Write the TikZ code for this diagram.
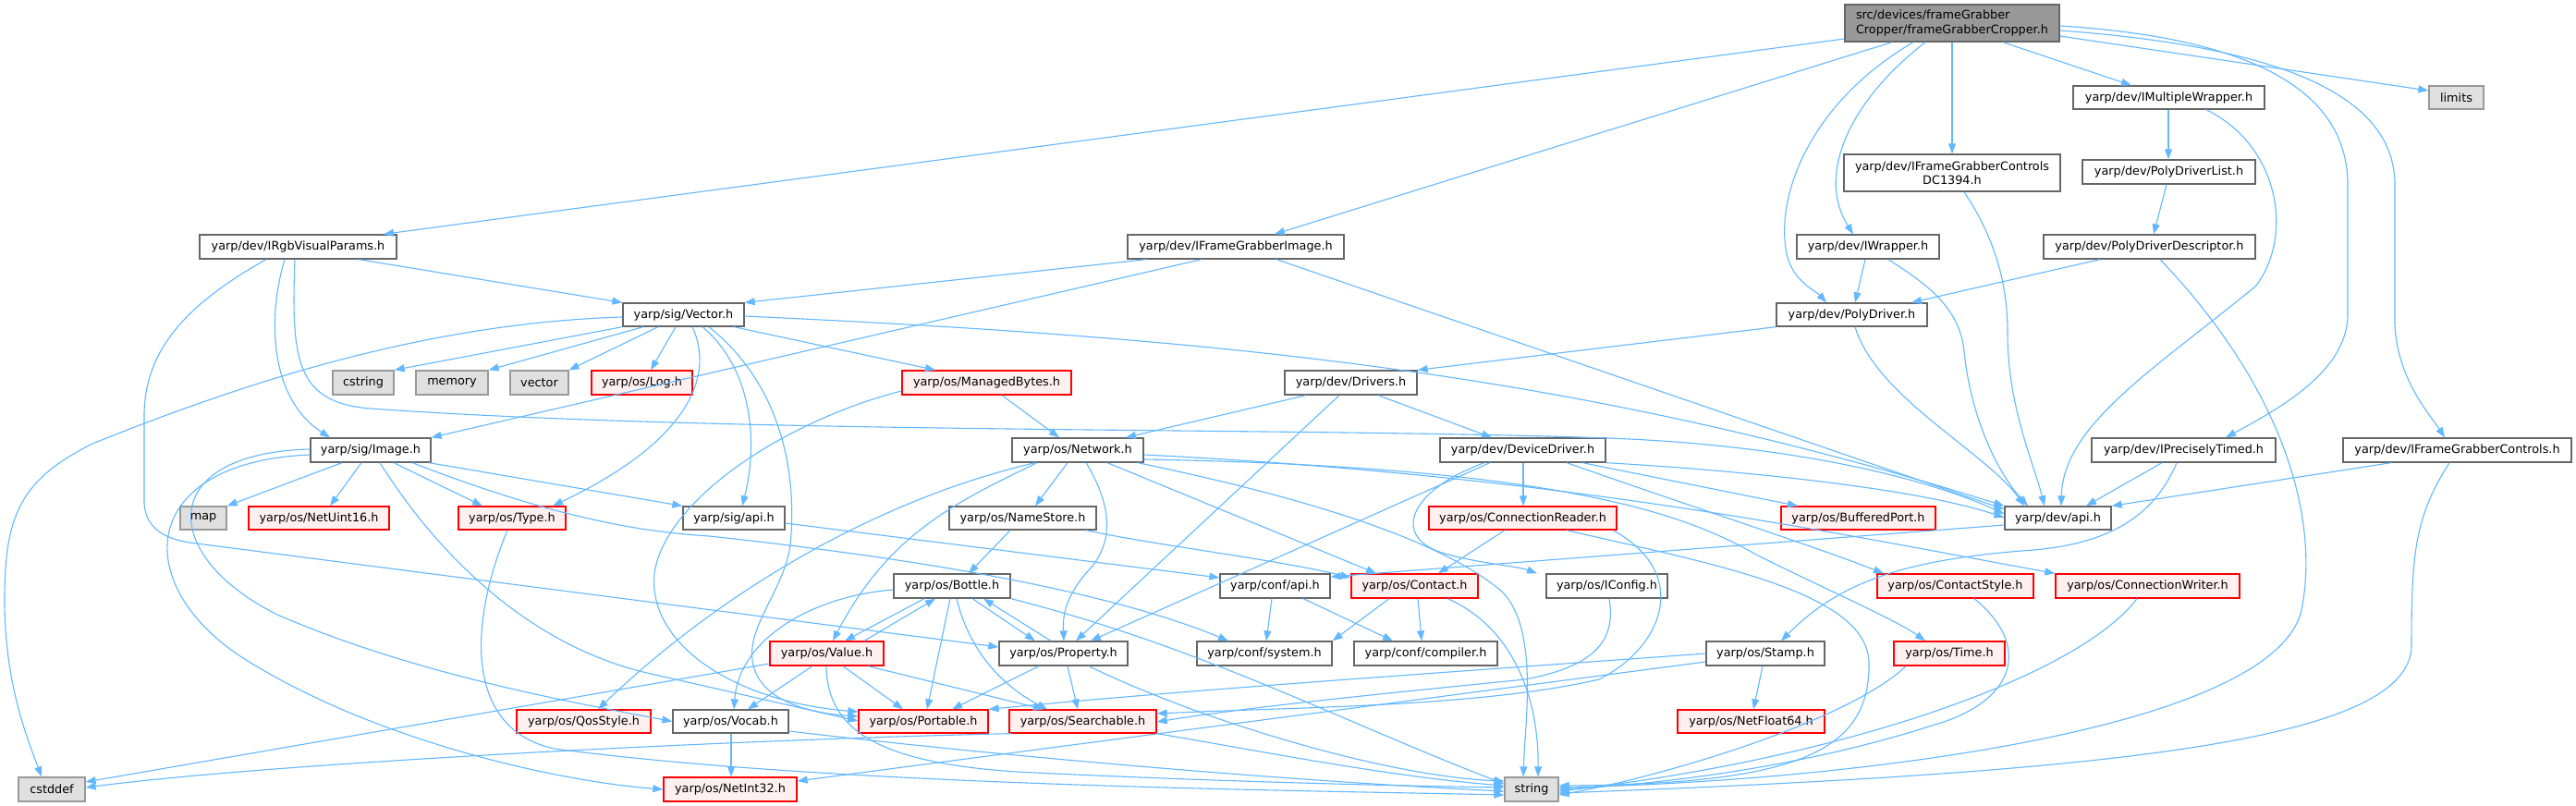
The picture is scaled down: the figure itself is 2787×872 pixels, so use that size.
\documentclass[tikz,border=0pt]{standalone}
\usepackage{fontspec}
\setmainfont{DejaVu Sans}
\usetikzlibrary{arrows.meta}
\definecolor{eb}{HTML}{63B8FF}
\definecolor{gbd}{HTML}{666666}
\definecolor{rbd}{HTML}{FF0000}
\definecolor{rfill}{HTML}{FFF0F0}
\definecolor{sbd}{HTML}{999999}
\definecolor{sfill}{HTML}{E0E0E0}
\definecolor{rootfill}{HTML}{999999}
\newcommand\mk[7]{\node[#1,minimum width={(#4-#3)*1pt},minimum height={(#6-#5)*1pt}] (#2) at ({(#3+#4)/2},{(#5+#6)/2}) {#7};}
\begin{document}
\begin{tikzpicture}[x=1pt,y=-1pt,
  base/.style={draw, line width=1.3pt, inner sep=0pt, font=\fontsize{12.8}{15.5}\selectfont, text=black},
  nb/.style={base, draw=gbd, fill=white},
  rb/.style={base, draw=rbd, fill=rfill},
  sb/.style={base, draw=sbd, fill=sfill},
  rootb/.style={base, draw=gbd, fill=rootfill, align=left},
  e/.style={draw=eb, line width=1.1pt, -{Triangle[length=11pt,width=8pt]}}]
\path[use as bounding box, fill=white] (0,0) rectangle (2787,872);
% nodes
\mk{rootb}{root}{1996}{2228}{5}{45}{src/devices/frameGrabber\\Cropper/frameGrabberCropper.h}
\mk{nb}{imw}{2243}{2450}{93}{118}{yarp/dev/IMultipleWrapper.h}
\mk{sb}{limits}{2628}{2687}{93}{118}{limits}
\mk{nb,align=center}{dc}{1995}{2229}{167}{207}{yarp/dev/IFrameGrabberControls\\DC1394.h}
\mk{nb}{pdl}{2253}{2440}{173}{199}{yarp/dev/PolyDriverList.h}
\mk{nb}{irgb}{216}{429}{254}{280}{yarp/dev/IRgbVisualParams.h}
\mk{nb}{ifgi}{1220}{1454}{254}{280}{yarp/dev/IFrameGrabberImage.h}
\mk{nb}{iwr}{1944}{2098}{254}{280}{yarp/dev/IWrapper.h}
\mk{nb}{pdd}{2211}{2440}{254}{280}{yarp/dev/PolyDriverDescriptor.h}
\mk{nb}{vec}{674}{805}{328}{353}{yarp/sig/Vector.h}
\mk{nb}{pd}{1922}{2085}{328}{353}{yarp/dev/PolyDriver.h}
\mk{sb}{cstring}{360}{426}{401}{427}{cstring}
\mk{sb}{memory}{450}{528}{401}{427}{memory}
\mk{sb}{vector}{552}{615}{401}{427}{vector}
\mk{rb}{log}{640}{749}{401}{427}{yarp/os/Log.h}
\mk{rb}{mb}{976}{1159}{401}{427}{yarp/os/ManagedBytes.h}
\mk{nb}{drv}{1390}{1533}{401}{427}{yarp/dev/Drivers.h}
\mk{nb}{img}{336}{466}{474}{500}{yarp/sig/Image.h}
\mk{nb}{net}{1095}{1237}{474}{500}{yarp/os/Network.h}
\mk{nb}{dd}{1558}{1737}{474}{500}{yarp/dev/DeviceDriver.h}
\mk{nb}{ipt}{2263}{2462}{474}{500}{yarp/dev/IPreciselyTimed.h}
\mk{nb}{ifgc}{2535}{2782}{474}{500}{yarp/dev/IFrameGrabberControls.h}
\mk{sb}{map}{195}{245}{548}{573}{map}
\mk{rb}{nu}{269}{421}{548}{573}{yarp/os/NetUint16.h}
\mk{rb}{type}{496}{612}{548}{573}{yarp/os/Type.h}
\mk{nb}{sapi}{739}{849}{548}{573}{yarp/sig/api.h}
\mk{nb}{ns}{1027}{1186}{548}{573}{yarp/os/NameStore.h}
\mk{rb}{cr}{1546}{1749}{548}{573}{yarp/os/ConnectionReader.h}
\mk{rb}{bp}{1927}{2094}{548}{573}{yarp/os/BufferedPort.h}
\mk{nb}{dapi}{2169}{2284}{548}{573}{yarp/dev/api.h}
\mk{nb}{bottle}{967}{1093}{621}{647}{yarp/os/Bottle.h}
\mk{nb}{capi}{1320}{1439}{621}{647}{yarp/conf/api.h}
\mk{rb}{contact}{1462}{1599}{621}{647}{yarp/os/Contact.h}
\mk{nb}{iconfig}{1673}{1804}{621}{647}{yarp/os/IConfig.h}
\mk{rb}{cs}{2031}{2200}{621}{647}{yarp/os/ContactStyle.h}
\mk{rb}{cw}{2224}{2423}{621}{647}{yarp/os/ConnectionWriter.h}
\mk{rb}{value}{833}{956}{694}{720}{yarp/os/Value.h}
\mk{nb}{prop}{1081}{1220}{694}{720}{yarp/os/Property.h}
\mk{nb}{csys}{1295}{1441}{694}{720}{yarp/conf/system.h}
\mk{nb}{comp}{1465}{1620}{694}{720}{yarp/conf/compiler.h}
\mk{nb}{stamp}{1846}{1974}{694}{720}{yarp/os/Stamp.h}
\mk{rb}{time}{2049}{2169}{694}{720}{yarp/os/Time.h}
\mk{rb}{qos}{559}{704}{768}{793}{yarp/os/QosStyle.h}
\mk{nb}{vocab}{728}{853}{768}{793}{yarp/os/Vocab.h}
\mk{rb}{port}{929}{1069}{768}{793}{yarp/os/Portable.h}
\mk{rb}{search}{1092}{1251}{768}{793}{yarp/os/Searchable.h}
\mk{rb}{nf}{1815}{1974}{768}{793}{yarp/os/NetFloat64.h}
\mk{sb}{cstddef}{20}{92}{841}{867}{cstddef}
\mk{rb}{ni}{718}{862}{841}{867}{yarp/os/NetInt32.h}
\mk{sb}{string}{1628}{1686}{841}{867}{string}
% root edges
\draw[e] (root.west |- 0,42) -- (irgb.north -| 415,0);
\draw[e] (root.south -| 2047,0) -- (ifgi.north -| 1379,0);
\draw[e] (root.south -| 2070,0) .. controls (1960,110) and (1920,210) .. (1933,275) .. controls (1940,305) and (1965,315) .. (pd.north -| 1976,0);
\draw[e] (root.south -| 2083,0) .. controls (2000,110) and (1965,190) .. (iwr.north -| 2005,0);
\draw[e] (root.south -| 2112,0) -- (dc.north -| 2112,0);
\draw[e] (root.south -| 2167,0) -- (imw.north -| 2306,0);
\draw[e] (root.east |- 0,39) -- (limits.west |- 0,98);
\draw[e] (root.east |- 0,28) .. controls (2420,40) and (2540,90) .. (2540,200) -- (2540,340) .. controls (2540,400) and (2470,440) .. (ipt.north -| 2408,0);
\draw[e] (root.east |- 0,33) .. controls (2460,50) and (2591,100) .. (2591,200) -- (2591,350) .. controls (2593,410) and (2630,450) .. (ifgc.north -| 2645,0);
% imw, pdl, dc, iwr, pdd
\draw[e] (imw.south -| 2346,0) -- (pdl.north -| 2346,0);
\draw[e] (imw.south -| 2387,0) .. controls (2470,160) and (2480,260) .. (2440,310) .. controls (2330,400) and (2232,460) .. (dapi.north -| 2230,0);
\draw[e] (pdl.south -| 2344,0) -- (pdd.north -| 2330,0);
\draw[e] (dc.south -| 2125,0) .. controls (2160,260) and (2172,310) .. (2172,360) .. controls (2172,440) and (2200,500) .. (dapi.north -| 2212,0);
\draw[e] (iwr.south -| 2018,0) -- (pd.north -| 2007,0);
\draw[e] (iwr.south -| 2043,0) .. controls (2080,305) and (2120,330) .. (2125,380) .. controls (2132,450) and (2160,510) .. (dapi.north -| 2194,0);
\draw[e] (pdd.south -| 2272,0) -- (pd.north -| 2068,0);
\draw[e] (pdd.south -| 2337,0) .. controls (2470,420) and (2510,560) .. (2490,660) .. controls (2460,790) and (2000,845) .. (string.east |- 0,852);
% ipt, ifgc
\draw[e] (ipt.south -| 2339,0) -- (dapi.north -| 2257,0);
\draw[e] (ipt.south -| 2355,0) .. controls (2330,560) and (2280,588) .. (2200,595) .. controls (2060,605) and (1990,630) .. (stamp.north -| 1927,0);
\draw[e] (ifgc.south -| 2587,0) -- (dapi.north east);
\draw[e] (ifgc.south -| 2650,0) .. controls (2612,560) and (2609,600) .. (2609,700) .. controls (2605,800) and (2300,835) .. (string.east |- 0,858);
% irgb
\draw[e] (irgb.south -| 388,0) -- (vec.north west);
\draw[e] (irgb.south -| 308,0) .. controls (290,340) and (290,430) .. (img.north -| 357,0);
\draw[e] (irgb.south -| 319,0) .. controls (315,390) and (320,435) .. (400,442) .. controls (800,470) and (1400,462) .. (1740,474) .. controls (1950,482) and (2090,520) .. (dapi.west |- 0,556);
\draw[e] (irgb.south -| 288,0) .. controls (200,330) and (156,380) .. (156,450) -- (156,545) .. controls (158,570) and (175,582) .. (205,587) -- (prop.west |- 0,700);
% ifgi
\draw[e] (ifgi.south -| 1240,0) -- (vec.north east);
\draw[e] (ifgi.south -| 1300,0) -- (img.north east);
\draw[e] (ifgi.south -| 1381,0) -- (dapi.west |- 0,551);
% vec
\draw[e] (vec.west |- 0,343) .. controls (450,350) and (250,420) .. (100,480) .. controls (20,520) and (5,560) .. (5,650) .. controls (5,740) and (30,800) .. (cstddef.north -| 45,0);
\draw[e] (vec.south west) -- (cstring.north east);
\draw[e] (vec.south -| 696,0) -- (memory.north east);
\draw[e] (vec.south -| 712,0) -- (vector.north east);
\draw[e] (vec.south -| 731,0) -- (log.north -| 704,0);
\draw[e] (vec.south -| 749,0) .. controls (775,410) and (740,480) .. (type.north -| 598,0);
\draw[e] (vec.south -| 760,0) .. controls (815,400) and (820,480) .. (sapi.north -| 803,0);
\draw[e] (vec.south -| 767,0) .. controls (850,420) and (862,520) .. (855,590) .. controls (848,640) and (805,680) .. (815,720) .. controls (825,760) and (880,772) .. (port.west |- 0,775);
\draw[e] (vec.south -| 794,0) -- (mb.north -| 1012,0);
\draw[e] (vec.east |- 0,342) .. controls (1300,365) and (1700,400) .. (dapi.north west);
% mb, drv, pd
\draw[e] (mb.south -| 1084,0) -- (net.north -| 1146,0);
\draw[e] (mb.west |- 0,423) .. controls (850,455) and (720,540) .. (708,620) .. controls (700,700) and (800,760) .. (port.west |- 0,770);
\draw[e] (drv.south -| 1413,0) -- (net.north -| 1218,0);
\draw[e] (drv.south -| 1491,0) -- (dd.north -| 1614,0);
\draw[e] (drv.south -| 1449,0) -- (prop.north -| 1164,0);
\draw[e] (pd.south west) -- (drv.north east);
\draw[e] (pd.south -| 2007,0) .. controls (2030,430) and (2150,490) .. (dapi.north -| 2190,0);
% img
\draw[e] (img.south -| 370,0) -- (map.north east);
\draw[e] (img.south -| 391,0) -- (nu.north -| 357,0);
\draw[e] (img.south -| 426,0) -- (type.north -| 522,0);
\draw[e] (img.south -| 464,0) -- (sapi.north west);
\draw[e] (img.south -| 446,0) .. controls (600,560) and (690,575) .. (767,580) .. controls (1000,605) and (1200,640) .. (csys.north -| 1329,0);
\draw[e] (img.west |- 0,492) .. controls (150,500) and (140,630) .. (260,710) .. controls (400,800) and (600,845) .. (ni.west);
\draw[e] (img.west |- 0,486) .. controls (170,490) and (170,600) .. (300,665) .. controls (450,730) and (620,760) .. (vocab.west);
\draw[e] (img.south -| 411,0) .. controls (480,610) and (580,700) .. (700,728) -- (port.west |- 0,780);
% net
\draw[e] (net.south -| 1120,0) .. controls (950,540) and (780,640) .. (qos.north -| 647,0);
\draw[e] (net.south -| 1122,0) .. controls (1030,545) and (960,580) .. (value.north -| 901,0);
\draw[e] (net.south -| 1155,0) -- (ns.north -| 1120,0);
\draw[e] (net.south -| 1175,0) .. controls (1205,550) and (1205,590) .. (1175,620) .. controls (1150,650) and (1150,670) .. (prop.north -| 1151,0);
\draw[e] (net.south -| 1198,0) -- (contact.north -| 1489,0);
\draw[e] (net.south -| 1231,0) .. controls (1420,540) and (1560,585) .. (1625,640) .. controls (1665,680) and (1650,780) .. (string.north -| 1648,0);
\draw[e] (net.east |- 0,492) .. controls (1700,515) and (2000,580) .. (cw.north west);
\draw[e] (net.east |- 0,497) .. controls (1700,505) and (1830,560) .. (1900,600) .. controls (1980,640) and (2050,670) .. (time.north -| 2083,0);
% dd
\draw[e] (dd.south -| 1612,0) -- (prop.north -| 1180,0);
\draw[e] (dd.south -| 1648,0) -- (cr.north -| 1648,0);
\draw[e] (dd.south -| 1712,0) -- (bp.north -| 1945,0);
\draw[e] (dd.south east) .. controls (1900,510) and (2080,530) .. (dapi.west |- 0,560);
\draw[e] (dd.south -| 1695,0) .. controls (1850,555) and (1960,590) .. (cs.north -| 2038,0);
\draw[e] (dd.south -| 1606,0) .. controls (1525,530) and (1505,580) .. (1560,598) .. controls (1600,610) and (1640,612) .. (iconfig.north -| 1663,0);
% cr, iconfig, stamp
\draw[e] (cr.south -| 1628,0) -- (contact.north -| 1556,0);
\draw[e] (cr.south -| 1695,0) .. controls (1850,610) and (2025,640) .. (2022,720) .. controls (2022,815) and (1940,848) .. (string.east |- 0,850);
\draw[e] (cr.south -| 1745,0) .. controls (1830,620) and (1800,700) .. (1730,735) .. controls (1600,765) and (1400,765) .. (search.east |- 0,772);
\draw[e] (iconfig.south -| 1741,0) .. controls (1748,690) and (1730,720) .. (1650,735) .. controls (1500,750) and (1350,765) .. (search.east |- 0,781);
\draw[e] (stamp.west |- 0,707) .. controls (1600,725) and (1300,745) .. (port.north east);
\draw[e] (stamp.west |- 0,716) -- (ni.east |- 0,845);
\draw[e] (stamp.south -| 1907,0) -- (nf.north -| 1897,0);
% contact, conf
\draw[e] (contact.south -| 1503,0) -- (csys.north east);
\draw[e] (contact.south -| 1534,0) -- (comp.north -| 1538,0);
\draw[e] (contact.south -| 1566,0) .. controls (1640,680) and (1665,760) .. (string.north -| 1664,0);
\draw[e] (capi.south -| 1376,0) -- (csys.north -| 1370,0);
\draw[e] (capi.south -| 1410,0) -- (comp.north -| 1507,0);
\draw[e] (sapi.east |- 0,566) -- (capi.west |- 0,625);
\draw[e] (dapi.west |- 0,568) -- (capi.east |- 0,624);
\draw[e] (ns.south -| 1093,0) -- (bottle.north -| 1048,0);
\draw[e] (ns.south -| 1175,0) .. controls (1250,590) and (1380,605) .. (contact.west |- 0,625);
% bottle
\draw[e] (bottle.south -| 1000,0) -- (value.north -| 914,0);
\draw[e] (bottle.west |- 0,638) .. controls (880,645) and (800,690) .. (vocab.north -| 794,0);
\draw[e] (bottle.south -| 1028,0) -- (port.north -| 1003,0);
\draw[e] (bottle.south -| 1035,0) .. controls (1050,710) and (1090,745) .. (search.north -| 1133,0);
\draw[e] (bottle.south -| 1052,0) -- (prop.north -| 1120,0);
\draw[e] (bottle.south east) .. controls (1300,700) and (1450,780) .. (string.west |- 0,848);
% value
\draw[e] (value.north -| 935,0) -- (bottle.south -| 1012,0);
\draw[e] (value.south -| 879,0) -- (vocab.north -| 809,0);
\draw[e] (value.south -| 912,0) -- (port.north -| 977,0);
\draw[e] (value.south -| 939,0) -- (search.north -| 1129,0);
\draw[e] (value.south -| 894,0) .. controls (895,790) and (950,825) .. (1100,835) .. controls (1300,845) and (1500,850) .. (string.west |- 0,852);
\draw[e] (value.west |- 0,718) -- (cstddef.east |- 0,846);
% prop
\draw[e] (prop.north -| 1137,0) -- (bottle.south -| 1064,0);
\draw[e] (prop.south -| 1124,0) -- (port.north -| 1030,0);
\draw[e] (prop.south -| 1155,0) -- (search.north -| 1166,0);
\draw[e] (prop.south -| 1178,0) .. controls (1300,780) and (1500,840) .. (string.west |- 0,845);
% vocab, search, type, leaves
\draw[e] (vocab.south -| 791,0) -- (ni.north -| 791,0);
\draw[e] (vocab.east |- 0,791) .. controls (1100,820) and (1400,845) .. (string.west |- 0,856);
\draw[e] (search.south east) .. controls (1350,810) and (1500,840) .. (string.west |- 0,850);
\draw[e] (search.south -| 1094,0) .. controls (800,800) and (300,825) .. (cstddef.east |- 0,852);
\draw[e] (type.south -| 549,0) .. controls (505,680) and (505,790) .. (600,810) .. controls (900,850) and (1400,855) .. (string.west |- 0,860);
\draw[e] (time.south -| 2062,0) .. controls (2000,780) and (1800,840) .. (string.east |- 0,860);
\draw[e] (cs.south -| 2136,0) .. controls (2200,700) and (2180,760) .. (2090,785) .. controls (1950,830) and (1800,848) .. (string.east |- 0,854);
\draw[e] (cw.south -| 2312,0) .. controls (2250,730) and (2000,820) .. (string.east |- 0,856);
\end{tikzpicture}
\end{document}
